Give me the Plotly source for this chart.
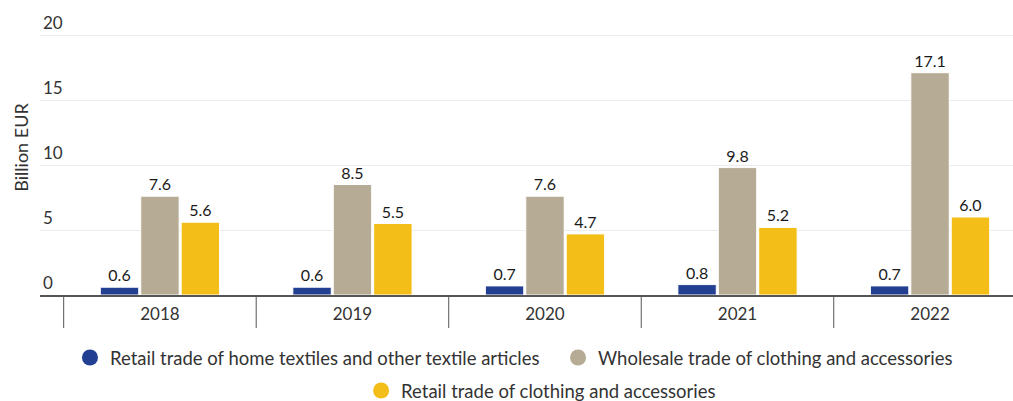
import plotly.graph_objects as go

years = ["2018", "2019", "2020", "2021", "2022"]
home_textiles_retail = [0.6, 0.6, 0.7, 0.8, 0.7]
clothing_wholesale = [7.6, 8.5, 7.6, 9.8, 17.1]
clothing_retail = [5.6, 5.5, 4.7, 5.2, 6.0]

# name, values, colour, legend id, legend left (fraction of plot width), legend row centre (px below plot bottom)
series = [
    ("Retail trade of home textiles and other textile articles", home_textiles_retail, "#223f92", "legend", 0.0308, 63),
    ("Wholesale trade of clothing and accessories", clothing_wholesale, "#b6ab94", "legend2", 0.5324, 63),
    ("Retail trade of clothing and accessories", clothing_retail, "#f3be18", "legend3", 0.330, 96),
]

FONT = "Lato, 'Open Sans', sans-serif"
PLOT_H = 295  # plot area height in px (top margin 0, bottom margin 106)

fig = go.Figure()
legends = {}
for name, vals, color, leg, lx, ly in series:
    fig.add_trace(go.Bar(
        x=years, y=vals, name=name, showlegend=False,
        marker=dict(color=color, line=dict(color="white", width=1)),
        text=[f"{v:.1f}" for v in vals], textposition="outside",
        textfont=dict(size=16, color="#1a1a1a", family=FONT),
        cliponaxis=False,
    ))
    # legend entry drawn as a round swatch
    fig.add_trace(go.Scatter(
        x=[None], y=[None], mode="markers", name=name, legend=leg,
        marker=dict(symbol="circle", size=18, color=color),
    ))
    legends[leg] = dict(
        orientation="h", x=lx, xanchor="left",
        y=-ly / PLOT_H, yanchor="middle",
        font=dict(size=18.5, color="#333333"),
        bgcolor="rgba(0,0,0,0)",
    )

# vertical separators between year groups
shapes = []
for i in range(len(years)):
    shapes.append(dict(type="line", xref="x", yref="paper",
                       x0=i - 0.5, x1=i - 0.5, y0=0, y1=-33 / PLOT_H,
                       line=dict(color="#555555", width=1)))

fig.update_layout(
    width=1013, height=401,
    margin=dict(l=40, r=0, t=0, b=106, autoexpand=False),
    paper_bgcolor="white", plot_bgcolor="white",
    font=dict(family=FONT, size=16, color="#333333"),
    barmode="group", bargap=0.37, bargroupgap=0.05,
    shapes=shapes,
    xaxis=dict(
        type="category", range=[-0.623, 4.431],
        showgrid=False, showline=True, linecolor="#555555", linewidth=1.5,
        ticks="outside", ticklen=3, tickcolor="rgba(0,0,0,0)",
        tickfont=dict(size=17, color="#333333"),
    ),
    yaxis=dict(
        range=[0, PLOT_H / 13.0], tickvals=[0, 5, 10, 15, 20],
        showgrid=True, gridcolor="#ececec", gridwidth=1,
        zeroline=False, showline=False,
        ticklabelposition="inside top",
        tickfont=dict(size=17, color="#333333"),
        title=dict(text="Billion EUR", font=dict(size=18, color="#333333"), standoff=9),
    ),
    **legends,
)

fig.write_html("out.html")
